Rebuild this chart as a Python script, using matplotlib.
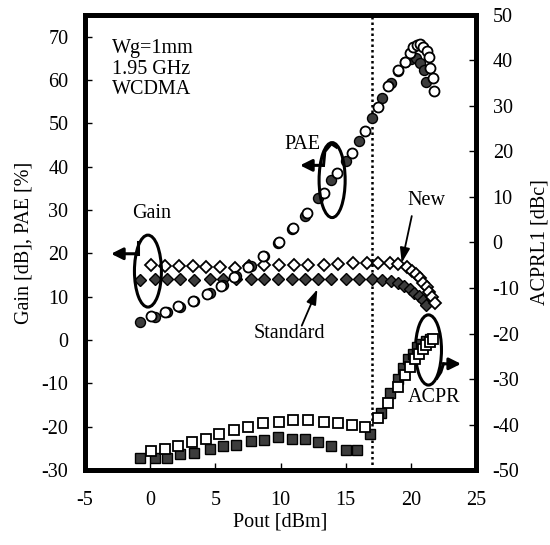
import matplotlib
matplotlib.use('Agg')
import matplotlib.pyplot as plt
from matplotlib.patches import Ellipse

plt.rcParams['font.family'] = ['Liberation Serif', 'DejaVu Serif']
plt.rcParams['axes.unicode_minus'] = False

# ---------------- data ----------------
# Standard device (filled markers)
pout_gain_std = [-0.8, 0.35, 1.3, 2.3, 3.4, 4.6, 5.6, 6.6, 7.7, 8.7, 9.8, 10.9, 11.9, 12.9, 13.9,
                 15.0, 16.0, 17.0, 17.8, 18.5, 19.0, 19.5, 19.9, 20.25, 20.6, 20.9, 21.2]
gain_std = [13.9, 14.0, 14.0, 14.0, 13.9, 14.0, 14.0, 14.0, 14.0, 14.0, 14.0, 14.0, 14.0, 14.0, 14.0,
            14.0, 14.0, 14.0, 13.9, 13.7, 13.1, 12.5, 11.7, 10.9, 10.2, 9.2, 8.1]
pout_pae_std = [-0.8, 0.35, 1.3, 2.3, 3.4, 4.6, 5.6, 6.6, 7.7, 8.7, 9.8, 10.9, 11.9, 12.9, 13.9,
                15.0, 16.0, 17.0, 17.8, 18.5, 19.0, 19.55, 20.0, 20.4, 20.7, 21.0, 21.15]
pae_std = [4.2, 5.4, 6.5, 7.7, 9.0, 10.8, 12.6, 14.7, 17.0, 19.4, 22.3, 25.6, 28.6, 32.7, 36.9,
           41.2, 46.0, 51.2, 55.9, 59.2, 62.0, 64.2, 64.8, 65.0, 63.9, 62.2, 59.5]
pout_acpr_std = [-0.8, 0.35, 1.3, 2.3, 3.4, 4.6, 5.6, 6.6, 7.7, 8.7, 9.8, 10.9, 11.9, 12.9, 13.9,
                 15.0, 15.9, 16.9, 17.7, 18.4, 19.0, 19.4, 19.8, 20.2, 20.5, 20.8, 21.15, 21.5]
acpr_std = [-47.3, -47.3, -47.3, -46.5, -46.2, -45.4, -44.7, -44.4, -43.6, -43.3, -42.8, -43.2, -43.2,
            -43.9, -44.8, -45.5, -45.5, -42.1, -37.4, -33.1, -30.1, -27.5, -25.6, -24.4, -23.0, -22.2,
            -21.6, -21.3]

# New device (open markers)
pout_gain_new = [0.1, 1.14, 2.2, 3.26, 4.3, 5.36, 6.5, 7.6, 8.7, 9.9, 11.0, 12.1, 13.3, 14.4, 15.6,
                 16.6, 17.5, 18.4, 19.04, 19.68, 20.07, 20.4, 20.71, 20.96, 21.22, 21.42, 21.6, 21.86]
gain_new = [17.3, 17.1, 17.1, 17.1, 16.8, 16.8, 16.7, 17.0, 17.3, 17.3, 17.3, 17.4, 17.4, 17.5, 17.7,
            17.7, 17.7, 17.7, 17.5, 16.8, 16.0, 15.2, 14.2, 13.2, 12.2, 11.0, 9.9, 8.6]
pout_pae_new = [0.07, 1.14, 2.16, 3.31, 4.34, 5.41, 6.44, 7.53, 8.69, 9.89, 10.99, 12.0, 13.3, 14.3,
                15.5, 16.5, 17.5, 18.28, 19.05, 19.56, 19.94, 20.2, 20.5, 20.7, 20.96, 21.27, 21.4,
                21.5, 21.7, 21.8]
pae_new = [5.5, 6.4, 7.8, 9.1, 10.6, 12.5, 14.6, 16.8, 19.4, 22.5, 25.8, 29.2, 33.9, 38.5, 43.2, 48.3,
           53.8, 58.6, 62.2, 64.2, 66.3, 67.7, 68.1, 68.3, 67.7, 66.8, 65.4, 62.8, 60.5, 57.5]
pout_acpr_new = [0.07, 1.14, 2.16, 3.24, 4.29, 5.31, 6.44, 7.53, 8.69, 9.89, 10.99, 12.1, 13.3, 14.4,
                 15.46, 16.49, 17.46, 18.23, 19.0, 19.56, 19.94, 20.3, 20.66, 20.9, 21.2, 21.5, 21.7]
acpr_new = [-45.8, -45.4, -44.7, -43.9, -43.2, -42.1, -41.2, -40.5, -39.7, -39.4, -39.0, -39.0, -39.4,
            -39.7, -40.1, -40.5, -38.6, -35.3, -31.7, -29.1, -27.3, -25.7, -24.4, -23.5, -22.5, -21.8,
            -21.1]

pout_ticks = [-5, 0, 5, 10, 15, 20, 25]
left_ticks = [-30, -20, -10, 0, 10, 20, 30, 40, 50, 60, 70]
right_ticks = [-50, -40, -30, -20, -10, 0, 10, 20, 30, 40, 50]
pout_marker = 17

# ---------------- figure ----------------
fig = plt.figure(figsize=(5.5, 5.45), dpi=100)
ax = fig.add_axes([0.1545, 0.1376, 0.711, 0.8349])
ax2 = ax.twinx()

FILL = '#3c3c3c'
FS = 14.5

ax2.plot(pout_acpr_std, acpr_std, ls='none', marker='s', ms=6.6, mfc=FILL, mec='black', mew=1.0)
ax2.plot(pout_acpr_new, acpr_new, ls='none', marker='s', ms=6.6, mfc='white', mec='black', mew=1.3)

ax.plot(pout_gain_std, gain_std, ls='none', marker='D', ms=6.0, mfc=FILL, mec='black', mew=1.0, zorder=3)
ax.plot(pout_gain_new, gain_new, ls='none', marker='D', ms=6.0, mfc='white', mec='black', mew=1.3, zorder=3)
ax.plot(pout_pae_std, pae_std, ls='none', marker='o', ms=7.2, mfc=FILL, mec='black', mew=1.0, zorder=3)
ax.plot(pout_pae_new, pae_new, ls='none', marker='o', ms=7.2, mfc='white', mec='black', mew=1.3, zorder=3)

ax.axvline(pout_marker, color='black', ls=(0, (1, 1.2)), lw=1.8, zorder=1)

ax.set_xlim(-5, 25)
ax.set_ylim(-30, 75)
ax2.set_ylim(-50, 50)
ax.set_xticks(pout_ticks)
ax.set_yticks(left_ticks)
ax2.set_yticks(right_ticks)

for a in (ax, ax2):
    for s in a.spines.values():
        s.set_linewidth(3.5)
ax.tick_params(axis='y', direction='in', length=5, width=1, labelsize=FS, pad=12)
ax.tick_params(axis='x', direction='in', length=5, width=1, labelsize=FS, pad=15)
ax2.tick_params(axis='y', direction='in', length=5, width=1, labelsize=FS, pad=12)

ax.set_xlabel('Pout [dBm]', fontsize=FS, labelpad=2)
ax.set_ylabel('Gain [dB], PAE [%]', fontsize=FS, labelpad=6)
ax2.set_ylabel('ACPRL1 [dBc]', fontsize=FS, labelpad=8)

# ---------------- annotations ----------------
ax.text(-2.93, 69.5, 'Wg=1mm\n1.95 GHz\nWCDMA', fontsize=FS, va='top', ha='left', linespacing=1.12)
ax.text(11.65, 45.0, 'PAE', fontsize=FS, ha='center', va='center')
ax.text(0.14, 29.3, 'Gain', fontsize=FS, ha='center', va='center')
ax.text(10.66, 1.6, 'Standard', fontsize=FS, ha='center', va='center')
ax.text(21.2, 32.3, 'New', fontsize=FS, ha='center', va='center')
ax.text(21.8, -13.3, 'ACPR', fontsize=FS, ha='center', va='center')

LW = 2.2
ahead = dict(arrowstyle='-|>,head_length=0.7,head_width=0.35', lw=LW, color='black', shrinkA=0, shrinkB=0)
# Gain loop
ax.add_patch(Ellipse((-0.17, 15.9), 2.07, 16.6, fill=False, lw=LW, ec='black', zorder=4))
ax.plot([-0.9, -0.9], [19.9, 22.5], color='black', lw=LW, zorder=4)
ax.annotate('', xy=(-3.0, 19.9), xytext=(-0.9, 19.9), arrowprops=ahead, zorder=4)
# PAE loop
ax.add_patch(Ellipse((13.96, 36.9), 2.0, 17.3, fill=False, lw=LW, ec='black', zorder=4))
ax.plot([13.3, 13.4, 13.9, 14.3], [40.3, 43.5, 45.3, 44.5], color='black', lw=LW, zorder=4)
ax.annotate('', xy=(11.5, 40.3), xytext=(13.3, 40.3), arrowprops=ahead, zorder=4)
# ACPR loop
ax.add_patch(Ellipse((21.35, -2.3), 2.0, 16.2, fill=False, lw=LW, ec='black', zorder=4))
ax.plot([22.0, 22.3, 22.5], [-8.8, -7.4, -5.5], color='black', lw=LW, zorder=4)
ax.annotate('', xy=(23.85, -5.5), xytext=(22.5, -5.5), arrowprops=ahead, zorder=4)
# pointer arrows
thin = dict(arrowstyle='-|>,head_length=0.9,head_width=0.3', lw=1.3, color='black', shrinkA=0, shrinkB=0)
ax.annotate('', xy=(12.83, 11.7), xytext=(11.63, 3.3), arrowprops=thin, zorder=4)
ax.annotate('', xy=(19.3, 17.8), xytext=(20.07, 28.6), arrowprops=thin, zorder=4)

fig.savefig('out.png', dpi=100)
